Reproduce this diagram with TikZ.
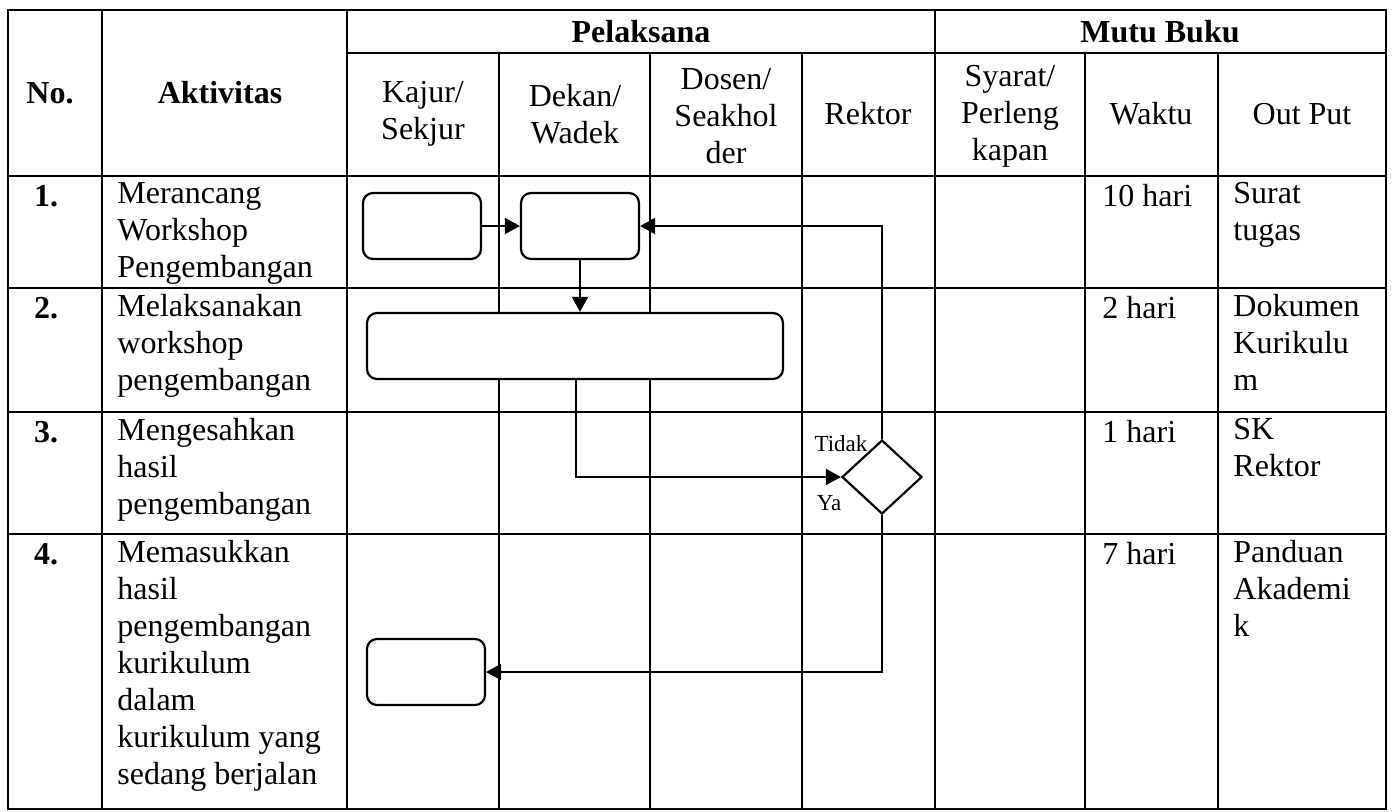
\documentclass[tikz,border=0pt]{standalone}
\usepackage{fontspec}
\setmainfont{Liberation Serif}
\usetikzlibrary{arrows.meta, shapes.geometric, positioning}

\begin{document}
\begin{tikzpicture}[x=0.5pt,y=-0.5pt,
    garis/.style={line width=1.2pt},
    proses/.style={draw,fill=white,line width=1.1pt,rounded corners=5pt,
                   minimum width=59pt,minimum height=33pt,inner sep=0pt},
    keputusan/.style={draw,fill=white,diamond,line width=1.1pt,
                   minimum width=40pt,minimum height=37pt,inner sep=0pt},
    panah/.style={line width=1pt,-{Triangle[length=7.5pt,width=8pt]}},
    judul/.style={font=\fontsize{16}{18.5}\selectfont\bfseries,inner sep=0pt},
    kepala/.style={font=\fontsize{16}{18.5}\selectfont,align=center,inner sep=0pt},
    isi/.style={font=\fontsize{16}{18.5}\selectfont,align=left,anchor=north west,
                inner sep=0pt,execute at begin node={\rule{0pt}{12pt}}},
    nomor/.style={font=\fontsize{16}{18.5}\selectfont\bfseries,anchor=base,inner sep=0pt},
    ket/.style={font=\fontsize{11.5}{13}\selectfont,inner sep=0pt}]
  \useasboundingbox (0,0) rectangle (1392,811);
  % tabel
  \draw[garis] (8,10) rectangle (1386,809);
  \foreach \y in {176,288,412,534} \draw[garis] (8,\y) -- (1386,\y);
  \draw[garis] (347,53) -- (1386,53);
  \foreach \x in {102,347,935} \draw[garis] (\x,10) -- (\x,809);
  \foreach \x in {499,650,802,1085,1218} \draw[garis] (\x,53) -- (\x,809);
  % kepala tabel
  \node[judul] (hNo) at (50,93) {No.};
  \node[judul] (hAkt) at (220,93) {Aktivitas};
  \node[judul] (hPel) at (641,32) {Pelaksana};
  \node[judul] (hMutu) at (1160,32) {Mutu Buku};
  \node[kepala] (hKajur) at (423,114) {Kajur/\\Sekjur};
  \node[kepala] (hDekan) at (575,114) {Dekan/\\Wadek};
  \node[kepala] (hDosen) at (726,116) {Dosen/\\Seakhol\\der};
  \node[kepala] (hRektor) at (868,114) {Rektor};
  \node[kepala] (hSyarat) at (1010,116) {Syarat/\\Perleng\\kapan};
  \node[kepala] (hWaktu) at (1151,114) {Waktu};
  \node[kepala] (hOut) at (1302,114) {Out Put};
  % isi baris
  \node[nomor] (n1) at (46,206) {1.};
  \node[nomor] (n2) at (46,318) {2.};
  \node[nomor] (n3) at (46,442) {3.};
  \node[nomor] (n4) at (46,564) {4.};
  \node[isi] (a1) at (117,182) {Merancang\\Workshop\\Pengembangan};
  \node[isi] (a2) at (117,294) {Melaksanakan\\workshop\\pengembangan};
  \node[isi] (a3) at (117,418) {Mengesahkan\\hasil\\pengembangan};
  \node[isi] (a4) at (117,540) {Memasukkan\\hasil\\pengembangan\\kurikulum\\dalam\\kurikulum yang\\sedang berjalan};
  \node[isi] (w1) at (1102,182) {10 hari};
  \node[isi] (w2) at (1102,294) {2 hari};
  \node[isi] (w3) at (1102,418) {1 hari};
  \node[isi] (w4) at (1102,540) {7 hari};
  \node[isi] (o1) at (1233,182) {Surat\\tugas};
  \node[isi] (o2) at (1233,294) {Dokumen\\Kurikulu\\m};
  \node[isi] (o3) at (1233,418) {SK\\Rektor};
  \node[isi] (o4) at (1233,540) {Panduan\\Akademi\\k};
  % alur
  \node[proses] (rancang) at (422,226) {};
  \node[proses] (tugas) at (580,226) {};
  \node[proses,minimum width=208pt] (workshop) at (575,346) {};
  \node[keputusan] (sah) at (882,477) {};
  \node[proses] (masuk) at (426,672) {};
  \coordinate[xshift=-2pt] (turun) at (tugas.south |- workshop.south);
  \draw[panah] (rancang) -- (tugas);
  \draw[panah] (tugas.south) -- (tugas.south |- workshop.north);
  \draw[panah] (turun) |- (sah.west);
  \draw[panah] (sah.north) |- (tugas.east);
  \draw[panah] (sah.south) |- (masuk.east);
  \node[ket] (tidak) at (841,444) {Tidak};
  \node[ket] (ya) at (829,503) {Ya};
\end{tikzpicture}
\end{document}
